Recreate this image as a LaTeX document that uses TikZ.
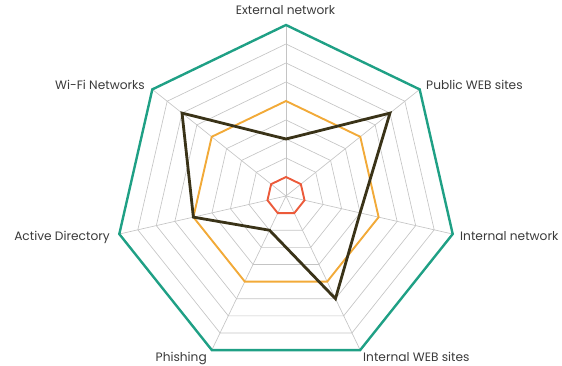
\documentclass[tikz,border=0pt]{standalone}
\usepackage{fontspec}
\setmainfont{Poppins}
\definecolor{tealc}{HTML}{1FA085}
\definecolor{goldc}{HTML}{F2AA38}
\definecolor{darkc}{HTML}{3A3318}
\definecolor{redc}{HTML}{EC5A3A}
\definecolor{gridc}{HTML}{C4C4C4}
\definecolor{txtc}{HTML}{3A3A3A}
\tikzset{
  gridline/.style={draw=gridc, line width=0.65pt},
  outerring/.style={draw=tealc, line width=2.4pt, line join=miter},
  goldring/.style={draw=goldc, line width=1.9pt, line join=miter},
  redring/.style={draw=redc, line width=1.9pt, line join=miter},
  darkpoly/.style={draw=darkc, line width=2.8pt, line join=miter},
  lbl/.style={inner sep=0pt, text=txtc, font=\fontsize{12.2}{14}\selectfont}
}
\begin{document}
\begin{tikzpicture}[x=1pt,y=1pt]
\useasboundingbox (0,0) rectangle (562,365);
\begin{scope}[shift={(286,169)}]
  % grid rings
  \foreach \r in {1,...,8} {
    \draw[gridline] (90:\r*19) -- (38.5714:\r*19) -- (-12.8571:\r*19) -- (-64.2857:\r*19)
      -- (-115.7143:\r*19) -- (-167.1429:\r*19) -- (141.4286:\r*19) -- cycle;
  }
  % spokes
  \foreach \a in {90,38.5714,-12.8571,-64.2857,-115.7143,-167.1429,141.4286} {
    \draw[gridline] (0,0) -- (\a:171);
  }
  % outer ring
  \draw[outerring] (90:171) -- (38.5714:171) -- (-12.8571:171) -- (-64.2857:171)
      -- (-115.7143:171) -- (-167.1429:171) -- (141.4286:171) -- cycle;
  % gold ring
  \draw[goldring] (90:95) -- (38.5714:95) -- (-12.8571:95) -- (-64.2857:95)
      -- (-115.7143:95) -- (-167.1429:95) -- (141.4286:95) -- cycle;
  % red ring
  \draw[redring] (90:19) -- (38.5714:19) -- (-12.8571:19) -- (-64.2857:19)
      -- (-115.7143:19) -- (-167.1429:19) -- (141.4286:19) -- cycle;
  % data polygon
  \draw[darkpoly] (90:57) -- (38.5714:133) -- (-12.8571:76) -- (-64.2857:114)
      -- (-115.7143:38) -- (-167.1429:95) -- (141.4286:133) -- cycle;
\end{scope}
% labels
\node[lbl, anchor=base] (ext) at (285.5,350) {External network};
\node[lbl, anchor=base west] (pub) at (426,276) {Public WEB sites};
\node[lbl, anchor=base west] (intn) at (460,125) {Internal network};
\node[lbl, anchor=base west] (intw) at (363,3.3) {Internal WEB sites};
\node[lbl, anchor=base east] (phi) at (207,3.3) {Phishing};
\node[lbl, anchor=base east] (ad) at (110,125) {Active Directory};
\node[lbl, anchor=base east] (wifi) at (145,275.7) {Wi-Fi Networks};
\end{tikzpicture}
\end{document}
